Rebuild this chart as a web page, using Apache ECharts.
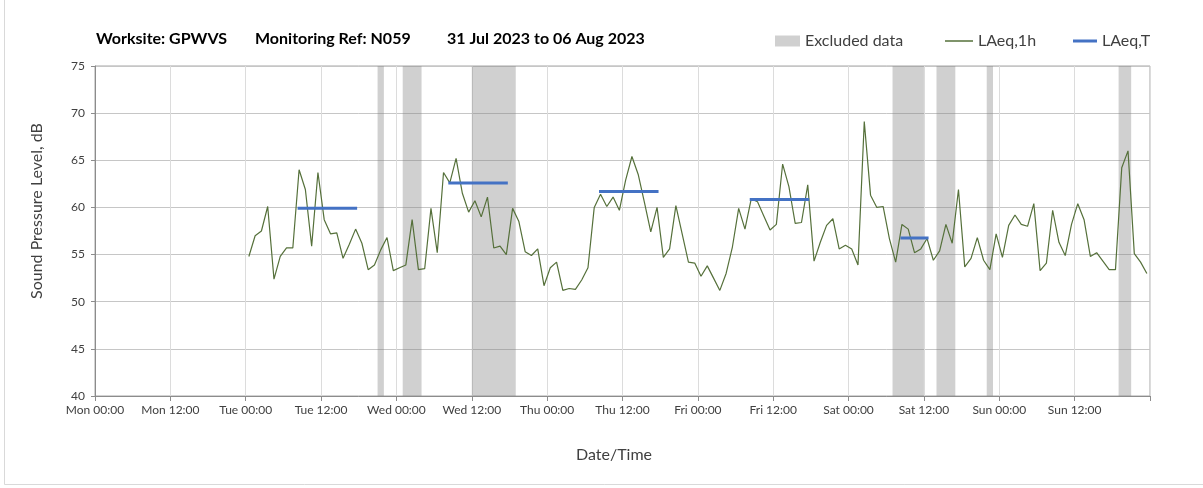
<!DOCTYPE html>
<html>
<head>
<meta charset="utf-8">
<script src="https://cdn.jsdelivr.net/npm/echarts@6/dist/echarts.min.js"></script>
<style>
  html, body { margin: 0; padding: 0; background: #ffffff; }
  #chart { width: 1203px; height: 488px; }
</style>
</head>
<body>
<div id="chart"></div>
<script>
// ---- data ----
// x-axis tick labels (every 12 hours from Mon 00:00)
var tickLabels = ['Mon 00:00', 'Mon 12:00', 'Tue 00:00', 'Tue 12:00', 'Wed 00:00', 'Wed 12:00',
  'Thu 00:00', 'Thu 12:00', 'Fri 00:00', 'Fri 12:00', 'Sat 00:00', 'Sat 12:00', 'Sun 00:00', 'Sun 12:00'];

// hourly LAeq,1h values, first hour = Tue 00:00 (hour 24 of the week)
var firstHour = 24;
var laeq1h = [
  54.8, 57.0, 57.5, 60.1, 52.4, 54.8, 55.7, 55.7, 64.0, 61.9, 55.9, 63.7,
  58.7, 57.2, 57.3, 54.6, 56.1, 57.7, 56.2, 53.4, 53.9, 55.5, 56.8, 53.3,
  53.6, 53.9, 58.7, 53.4, 53.5, 59.9, 55.2, 63.7, 62.6, 65.2, 61.5, 59.5,
  60.7, 59.0, 61.1, 55.7, 55.9, 55.0, 59.9, 58.5, 55.3, 54.9, 55.6, 51.7,
  53.6, 54.2, 51.2, 51.4, 51.3, 52.3, 53.6, 60.0, 61.4, 60.1, 61.1, 59.7,
  62.9, 65.4, 63.5, 60.5, 57.4, 60.0, 54.7, 55.6, 60.2, 57.2, 54.2, 54.1,
  52.7, 53.8, 52.5, 51.2, 53.0, 55.8, 59.9, 57.7, 60.9, 60.6, 59.1, 57.6,
  58.2, 64.6, 62.2, 58.3, 58.4, 62.4, 54.3, 56.3, 58.1, 58.8, 55.6, 56.0,
  55.6, 53.9, 69.1, 61.3, 60.0, 60.1, 56.7, 54.2, 58.2, 57.7, 55.2, 55.6,
  56.7, 54.4, 55.4, 58.2, 56.2, 61.9, 53.7, 54.6, 56.8, 54.4, 53.4, 57.2,
  54.7, 58.1, 59.2, 58.2, 58.0, 60.4, 53.3, 54.1, 59.7, 56.3, 54.9, 58.2,
  60.4, 58.7, 54.8, 55.2, 54.3, 53.4, 53.4, 64.2, 66.0, 55.1, 54.2, 53.0
];

// LAeq,T periods (day index from Mon = 0, first and last hour of period)
var ltDay = [1, 2, 3, 4, 5];
var ltFirstHour = [8, 8, 8, 8, 8];
var ltLastHour = [17, 17, 17, 17, 12];
var ltValues = [59.9, 62.6, 61.7, 60.85, 56.75];

// Excluded data periods, hours since Mon 00:00
var exclStart = [45, 49, 60, 127, 134, 142, 163];
var exclEnd = [46, 52, 67, 132, 137, 143, 165];

// ---- build chart ----
var FONT = 'Lato';
var lineData = laeq1h.map(function (v, i) { return [firstHour + i + 0.5, v]; });

var series = [];
series.push({
  name: 'Excluded data',
  type: 'line',
  data: [],
  color: '#d0d0d0',
  z: 1,
  silent: true,
  markArea: {
    silent: true,
    itemStyle: { color: 'rgba(128,128,128,0.37)' },
    data: exclStart.map(function (s, i) { return [{ xAxis: s }, { xAxis: exclEnd[i] }]; })
  }
});
series.push({
  name: 'LAeq,1h',
  type: 'line',
  data: lineData,
  color: '#55703a',
  showSymbol: false,
  lineStyle: { width: 1.2, color: '#55703a' },
  z: 5,
  animation: false
});
ltValues.forEach(function (v, k) {
  var d = ltDay[k] * 24;
  series.push({
    name: 'LAeq,T',
    type: 'line',
    color: '#4472c4',
    showSymbol: false,
    lineStyle: { width: 3, color: '#4472c4', cap: 'square' },
    data: [[d + ltFirstHour[k] + 0.5, v], [d + ltLastHour[k] + 0.5, v]],
    z: 6,
    animation: false
  });
});

var titleStyle = { fontFamily: FONT, fontSize: 16, fontWeight: 'bold', color: '#000' };
var legendText = { fontFamily: FONT, fontSize: 16, color: '#404040' };

var chart = echarts.init(document.getElementById('chart'), null, { renderer: 'canvas' });
chart.setOption({
  animation: false,
  backgroundColor: '#ffffff',
  title: [
    { text: 'Worksite: GPWVS', left: 96, top: 31, padding: 0, textStyle: titleStyle },
    { text: 'Monitoring Ref: N059', left: 255, top: 31, padding: 0, textStyle: titleStyle },
    { text: '31 Jul 2023 to 06 Aug 2023', left: 447, top: 31, padding: 0, textStyle: titleStyle }
  ],
  legend: [
    { data: ['Excluded data'], left: 775, top: 33, padding: 0, icon: 'rect', itemWidth: 25, itemHeight: 11, textStyle: legendText },
    { data: ['LAeq,1h'], left: 945, top: 33, padding: 0, icon: 'rect', itemWidth: 28, itemHeight: 1.5, textStyle: legendText },
    { data: ['LAeq,T'], left: 1073, top: 33, padding: 0, icon: 'rect', itemWidth: 24, itemHeight: 3, textStyle: legendText }
  ],
  grid: { left: 95, right: 53, top: 66, bottom: 92, show: true, borderColor: '#a6a6a6', borderWidth: 1 },
  xAxis: {
    type: 'value', min: 0, max: 168, interval: 12,
    axisLine: { show: true, lineStyle: { color: '#8c8c8c' } },
    axisTick: { show: true, length: 5, lineStyle: { color: '#8c8c8c' } },
    axisLabel: {
      fontFamily: FONT, fontSize: 12, color: '#404040', margin: 8,
      formatter: function (v) { var k = Math.round(v / 12); return k < tickLabels.length ? tickLabels[k] : ''; }
    },
    splitLine: { show: true, lineStyle: { color: '#dcdcdc', width: 1 } }
  },
  yAxis: {
    type: 'value', min: 40, max: 75, interval: 5,
    axisLine: { show: true, lineStyle: { color: '#8c8c8c' } },
    axisTick: { show: true, length: 4, lineStyle: { color: '#8c8c8c' } },
    axisLabel: { fontFamily: FONT, fontSize: 12, color: '#404040', margin: 10 },
    splitLine: { show: true, lineStyle: { color: '#c6c6c6', width: 1 } }
  },
  graphic: [
    { type: 'text', x: 37, y: 211, rotation: Math.PI / 2,
      style: { text: 'Sound Pressure Level, dB', x: 0, y: 0, textAlign: 'center', textVerticalAlign: 'middle',
        font: '16px Lato', fill: '#404040' } },
    { type: 'text', x: 614, y: 455,
      style: { text: 'Date/Time', x: 0, y: 0, textAlign: 'center', textVerticalAlign: 'middle',
        font: '16px Lato', fill: '#404040' } },
    { type: 'rect', shape: { x: 4.5, y: -2, width: 1300, height: 486.5 },
      style: { fill: 'none', stroke: '#d9d9d9', lineWidth: 1 }, silent: true }
  ],
  series: series
});
</script>
</body>
</html>
